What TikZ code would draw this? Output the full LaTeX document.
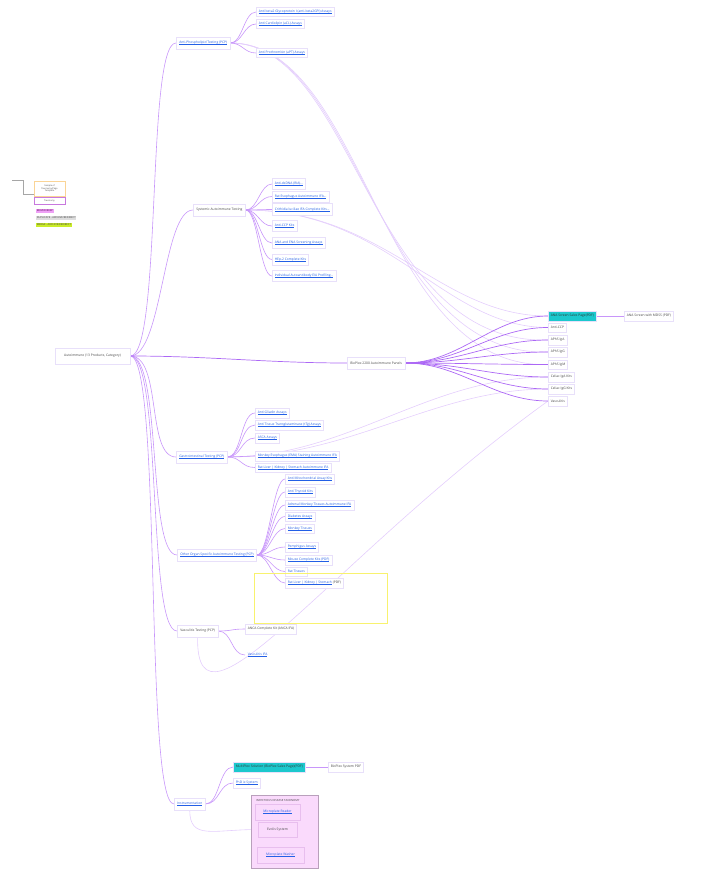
\documentclass[tikz,border=0pt]{standalone}
\usepackage{fontspec}
\setmainfont{Open Sans}
\usetikzlibrary{backgrounds}
\definecolor{boxline}{RGB}{232,224,250}
\definecolor{edgecol}{RGB}{200,150,250}
\definecolor{edgedark}{RGB}{172,104,245}
\definecolor{crosscol}{RGB}{228,206,252}
\definecolor{linkblue}{RGB}{35,95,230}
\definecolor{txtgray}{RGB}{70,70,70}
\definecolor{hlcyan}{RGB}{28,200,205}
\definecolor{grpfill}{RGB}{250,218,252}
\definecolor{grpline}{RGB}{185,160,188}
\definecolor{ibline}{RGB}{232,190,238}
\definecolor{yelline}{RGB}{248,242,110}
\definecolor{legorange}{RGB}{250,212,150}
\definecolor{legpurple}{RGB}{200,120,222}
\definecolor{hlmag}{RGB}{238,160,245}
\definecolor{hlgray}{RGB}{222,222,222}
\definecolor{hllime}{RGB}{202,236,40}
\newsavebox{\mylinkbox}
\newcommand{\mylink}[1]{\textcolor{linkblue}{\sbox{\mylinkbox}{#1}\rlap{\rule[-0.7pt]{\wd\mylinkbox}{0.15pt}}\usebox{\mylinkbox}}}
\begin{document}
\begin{tikzpicture}[x=1pt,y=-1pt,
  font=\fontsize{3.3}{3.9}\selectfont,
  box/.style={draw=boxline, fill=white, line width=0.5pt, inner xsep=2.5pt, inner ysep=1pt, minimum height=9.5pt, text=txtgray, anchor=west},
  branch/.style={box, minimum height=12pt, inner xsep=3pt},
  hl/.style={box, fill=hlcyan, text=black!80},
  ibox/.style={draw=ibline, fill=grpfill, line width=0.5pt, text=txtgray},
  edge/.style={draw=edgecol, line width=0.6pt},
  cedge/.style={draw=edgedark, line width=0.7pt},
  xlink/.style={draw=crosscol, line width=0.6pt},
  legline/.style={draw=gray!70, line width=0.6pt}]
\path[use as bounding box] (0,0) rectangle (726,880);

% ---------- root and branches ----------
\node[box, anchor=center, minimum height=16pt, minimum width=75pt] (root) at (92.5,356) {Autoimmune (13 Products, Category)};
\node[branch] (apl) at (176,43) {\mylink{Anti-Phospholipid Testing (PCP)}};
\node[branch] (sys) at (193,210) {Systemic Autoimmune Testing};
\node[branch] (bp) at (347,363) {BioPlex 2200 Autoimmune Panels};
\node[branch] (gi) at (176,457) {\mylink{Gastrointestinal Testing (PCP)}};
\node[branch] (org) at (177,555) {\mylink{Other Organ Specific Autoimmune Testing (PCP)}};
\node[branch] (vas) at (177,631) {Vasculitis Testing (PCP)};
\node[branch] (ins) at (174,804) {\mylink{Instrumentation}};

% ---------- anti-phospholipid ----------
\node[box] (b2gp) at (256,12) {\mylink{Anti beta2 Glycoprotein I (anti-beta2GPI) Assays}};
\node[box] (acl) at (256,24) {\mylink{Anti Cardiolipin (aCL) Assays}};
\node[box] (apt) at (256,53) {\mylink{Anti Prothrombin (aPT) Assays}};

% ---------- systemic ----------
\node[box, minimum height=11pt] (dsdna) at (272,184) {\mylink{Anti-dsDNA (RIA)...}};
\node[box, minimum height=11pt] (rates) at (272,196.5) {\mylink{Rat Esophagus Autoimmune IFA...}};
\node[box, minimum height=12pt] (crith) at (272,209.5) {\mylink{Crithidia luciliae IFA Complete Kits...}};
\node[box, minimum height=11pt] (ccpk) at (272,226) {\mylink{Anti-CCP Kits}};
\node[box, minimum height=11pt] (anaena) at (272,243) {\mylink{ANA and ENA Screening Assays}};
\node[box, minimum height=11pt] (hep) at (272,259.5) {\mylink{HEp-2 Complete Kits}};
\node[box, minimum height=11pt] (eia) at (272,276) {\mylink{Individual Autoantibody EIA Profiling...}};

% ---------- bioplex ----------
\node[hl] (anasc) at (548,316) {ANA Screen Sales Page(PDF)};
\node[box] (mdss) at (624,316) {ANA Screen with MDSS (PDF)};
\node[box] (accp) at (548,327.5) {Anti-CCP};
\node[box] (iga) at (548,340) {APhS IgA};
\node[box] (igg) at (548,352) {APhS IgG};
\node[box] (igm) at (548,364.5) {APhS IgM};
\node[box] (cela) at (548,377) {Celiac IgA Kits};
\node[box] (celg) at (548,389) {Celiac IgG Kits};
\node[box] (vascu) at (548,401) {Vasculitis};

% ---------- gastrointestinal ----------
\node[box] (glia) at (255,413) {\mylink{Anti Gliadin Assays}};
\node[box] (ttg) at (255,425) {\mylink{Anti Tissue Transglutaminase (tTg) Assays}};
\node[box] (asca) at (255,438) {\mylink{ASCA Assays}};
\node[box] (meso) at (255,456) {\mylink{Monkey Esophagus (EMA) Staining Autoimmune IFA}};
\node[box] (rlks) at (255,467.5) {\mylink{Rat Liver | Kidney | Stomach Autoimmune IFA}};

% ---------- other organ specific ----------
\node[box] (amito) at (285,479) {\mylink{Anti Mitochondrial Assay Kits}};
\node[box] (athy) at (285,492) {\mylink{Anti Thyroid Kits}};
\node[box] (adren) at (285,505) {\mylink{Adrenal Monkey Tissues Autoimmune IFA}};
\node[box] (diab) at (285,516.5) {\mylink{Diabetes Assays}};
\node[box] (monk) at (285,528.5) {\mylink{Monkey Tissues}};
\node[box] (pemph) at (285,547) {\mylink{Pemphigus Assays}};
\node[box] (mouse) at (285,560) {\mylink{Mouse Complete Kits (PDF)}};
\node[box] (rattis) at (285,571.5) {\mylink{Rat Tissues}};
\node[box] (rlkspdf) at (285,583) {\mylink{Rat Liver | Kidney | Stomach} (PDF)};
\node[draw=yelline, line width=0.8pt, minimum width=133pt, minimum height=50pt, anchor=north west] (ybox) at (254,573) {};

% ---------- vasculitis ----------
\node[box] (anca) at (245,629) {ANCA Complete Kit (ANCA IFA)};
\node[box, draw=none, fill=none] (vifa) at (245,655) {\mylink{Vasculitis IFA}};

% ---------- instrumentation ----------
\node[hl] (multi) at (233,767) {MultiPlex Solution (BioPlex Sales Page)(PDF)};
\node[box] (biosys) at (328,767) {BioPlex System PDF};
\node[box] (phd) at (233,783) {\mylink{PhD ix System}};
\node[draw=grpline, fill=grpfill, line width=1.2pt, minimum width=67pt, minimum height=73pt, anchor=north west] (grp) at (251,795) {};
\node[anchor=west, inner sep=0pt, text=txtgray, font=\fontsize{2.8}{3.2}\selectfont] (grptitle) at (256,800) {INFECTIOUS DISEASE TAXONOMY};
\node[ibox, minimum width=45pt, minimum height=16pt] (mr) at (277.5,812) {\mylink{Microplate Reader}};
\node[ibox, minimum width=39pt, minimum height=15pt] (ev) at (277.5,829.5) {Evolis System};
\node[ibox, minimum width=47pt, minimum height=16pt] (mw) at (280.5,855) {\mylink{Microplate Washer}};

% ---------- legend ----------
\node[draw=legorange, line width=0.5pt, minimum width=31pt, minimum height=15pt, align=center, inner sep=0.5pt, text=txtgray, font=\fontsize{2.2}{2.6}\selectfont] (leg1) at (49.5,188.5) {Sample of\\Taxonomy/Page\\Template};
\node[draw=legpurple, line width=0.5pt, minimum width=31pt, minimum height=7pt, inner sep=0.5pt, text=txtgray, font=\fontsize{2.2}{2.6}\selectfont] (leg2) at (49.5,200.5) {Taxonomy};
\node[anchor=west, fill=hlmag, inner sep=0.6pt, text=violet!70!black, font=\fontsize{2.6}{3}\selectfont] (lmove) at (36,211) {MOVED/KEEP};
\node[anchor=west, fill=hlgray, inner sep=0.6pt, text=txtgray, font=\fontsize{2.6}{3}\selectfont] (ldup) at (36,218) {DUPLICATE - ARCHIVE/REDIRECT};
\node[anchor=west, fill=hllime, inner sep=0.6pt, text=txtgray, font=\fontsize{2.6}{3}\selectfont] (lmerge) at (36,225) {MERGE - ARCHIVE/REDIRECT};
\coordinate (legstart) at (12,180.5);
\coordinate (legbend) at (23,180.5);
\coordinate (legend2) at (34,194.5);

\begin{pgfonlayer}{background}
  % legend line
  \draw[legline] (legstart) -- (legbend) |- (legend2);
  % cross links
  \draw[xlink] (apl.east) .. controls +(125,0) and +(-180,5) .. (iga.west);
  \draw[xlink] (apl.east) .. controls +(130,0) and +(-175,5) .. (igg.west);
  \draw[xlink] (apl.east) .. controls +(135,0) and +(-170,5) .. (igm.west);
  \draw[xlink] (sys.east) .. controls +(140,0) and +(-110,0) .. (anasc.west);
  \draw[xlink] (sys.east) .. controls +(145,0) and +(-105,0) .. (accp.west);
  \draw[xlink] (gi.east) .. controls +(120,0) and +(-120,0) .. (cela.west);
  \draw[xlink] (gi.east) .. controls +(125,0) and +(-115,0) .. (celg.west);
  \draw[xlink] (vas.south) .. controls +(-2,115) and +(-215,155) .. (vascu.west);
  \draw[xlink] (ins.south) .. controls +(0,30) and +(-45,0) .. (ev.west);
  % root edges
  \foreach \b in {apl,sys,gi,org,vas,ins}
    \draw[edge] (root.east) .. controls +(32,0) and +(-30,0) .. (\b.west);
  \draw[cedge] (root.east) .. controls +(80,0) and +(-80,0) .. (bp.west);
  % anti-phospholipid
  \foreach \c in {b2gp,acl,apt}
    \draw[edge] (apl.east) .. controls +(12,0) and +(-12,0) .. (\c.west);
  % systemic
  \foreach \c in {dsdna,rates,crith,ccpk,anaena,hep,eia}
    \draw[edge] (sys.east) .. controls +(12,0) and +(-12,0) .. (\c.west);
  % bioplex
  \foreach \c in {anasc,accp,iga,igg,igm,cela,celg,vascu}
    \draw[cedge] (bp.east) .. controls +(55,0) and +(-55,0) .. (\c.west);
  \draw[edge] (anasc.east) -- (mdss.west);
  % gi
  \foreach \c in {glia,ttg,asca,meso,rlks}
    \draw[edge] (gi.east) .. controls +(14,0) and +(-14,0) .. (\c.west);
  % organ
  \foreach \c in {amito,athy,adren,diab,monk,pemph,mouse,rattis,rlkspdf}
    \draw[edge] (org.east) .. controls +(12,0) and +(-12,0) .. (\c.west);
  % vasculitis
  \foreach \c in {anca,vifa}
    \draw[edge] (vas.east) .. controls +(14,0) and +(-14,0) .. (\c.west);
  % instrumentation
  \foreach \c in {multi,phd}
    \draw[edge] (ins.east) .. controls +(14,0) and +(-14,0) .. (\c.west);
  \draw[edge] (multi.east) -- (biosys.west);
\end{pgfonlayer}
\end{tikzpicture}
\end{document}
